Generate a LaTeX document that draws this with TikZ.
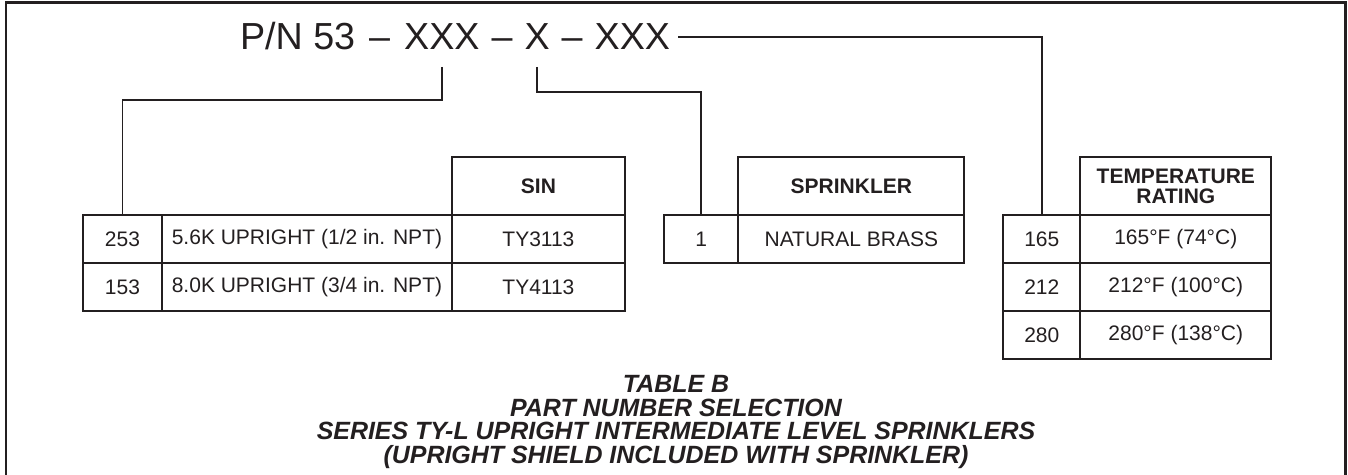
\documentclass[tikz,border=0pt]{standalone}
\usepackage{fontspec}
\setmainfont{Liberation Sans}
\usetikzlibrary{positioning}
\definecolor{ink}{RGB}{35,31,32}

\begin{document}
\begin{tikzpicture}[x=0.02cm, y=0.02cm, node distance=0cm,
    cell/.style={rectangle, draw=ink, line width=1.1pt, inner sep=0pt, outer sep=0pt, minimum height=0.96cm, text=ink, font=\fontsize{11.95}{14}\selectfont},
    headcell/.style={cell, minimum height=1.16cm, align=center, font=\fontsize{11.95}{11.4}\selectfont\bfseries},
    pnpart/.style={inner sep=0pt, outer sep=0pt, text=ink, font=\fontsize{21.45}{24}\selectfont},
    link/.style={draw=ink, line width=1.1pt}]
    \useasboundingbox (0,0) rectangle (1348,475);

    % Frame (open at the bottom)
    \draw[ink, line width=1.7pt] (6,-10) -- (6,472) -- (1345,472) -- (1345,-10);

    % Part number
    \node[pnpart, anchor=base west] (pn) at (240,425) {P/N 53};
    \node[pnpart, base right=0.28cm of pn] (dash1) {–};
    \node[pnpart, base right=0.28cm of dash1] (sinx) {XXX};
    \node[pnpart, base right=0.24cm of sinx] (dash2) {–};
    \node[pnpart, base right=0.24cm of dash2] (finx) {X};
    \node[pnpart, base right=0.24cm of finx] (dash3) {–};
    \node[pnpart, base right=0.24cm of dash3] (tempx) {XXX};

    % SIN table
    \node[cell, minimum width=1.58cm, anchor=north west] (s1code) at (83,260) {253};
    \node[cell, minimum width=5.8cm, right=of s1code] (s1size) {5.6K UPRIGHT (1/2 in. NPT)};
    \node[cell, minimum width=3.46cm, right=of s1size] (s1sin) {TY3113};
    \node[headcell, minimum width=3.46cm, above=of s1sin] (sinhead) {SIN};
    \node[cell, minimum width=1.58cm, below=of s1code] (s2code) {153};
    \node[cell, minimum width=5.8cm, right=of s2code] (s2size) {8.0K UPRIGHT (3/4 in. NPT)};
    \node[cell, minimum width=3.46cm, right=of s2size] (s2sin) {TY4113};

    % Finish table
    \node[cell, minimum width=1.49cm, right=0.78cm of s1sin] (f1code) {1};
    \node[cell, minimum width=4.52cm, right=of f1code] (f1fin) {NATURAL BRASS};
    \node[headcell, minimum width=4.52cm, above=of f1fin] (finhead) {SPRINKLER};

    % Temperature table
    \node[cell, minimum width=1.54cm, right=0.78cm of f1fin] (t1code) {165};
    \node[cell, minimum width=3.82cm, right=of t1code] (t1rate) {165°F (74°C)};
    \node[headcell, minimum width=3.82cm, above=of t1rate] (temphead) {TEMPERATURE\\RATING};
    \node[cell, minimum width=1.54cm, below=of t1code] (t2code) {212};
    \node[cell, minimum width=3.82cm, right=of t2code] (t2rate) {212°F (100°C)};
    \node[cell, minimum width=1.54cm, below=of t2code] (t3code) {280};
    \node[cell, minimum width=3.82cm, right=of t3code] (t3rate) {280°F (138°C)};

    % Connectors
    \draw[link] ([yshift=-0.34cm]sinx.south) -- ++(0,-0.66cm) -| (s1code.north);
    \draw[link] ([yshift=-0.34cm]finx.south) -- ++(0,-0.5cm) -| (f1code.north);
    \draw[link] ([xshift=0.16cm]tempx.east) -| (t1code.north);

    % Caption
    \node[anchor=north, inner sep=0pt, align=center, text=ink, font=\fontsize{14.2}{13.5}\selectfont\bfseries\itshape] (caption) at (676,100) {TABLE B\\PART NUMBER SELECTION\\SERIES TY-L UPRIGHT INTERMEDIATE LEVEL SPRINKLERS\\(UPRIGHT SHIELD INCLUDED WITH SPRINKLER)};
\end{tikzpicture}
\end{document}
